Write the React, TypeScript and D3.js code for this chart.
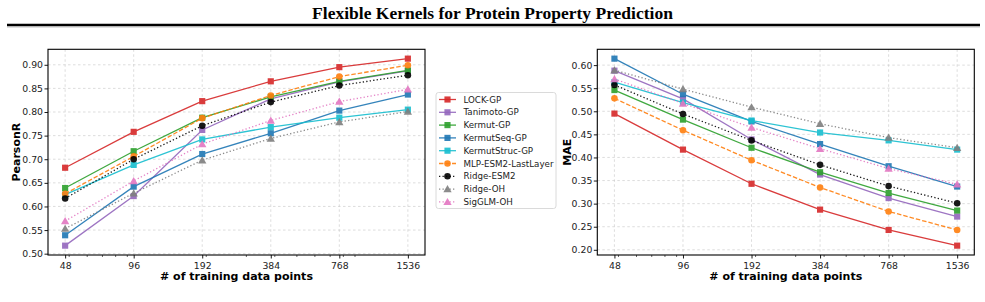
import * as d3 from "d3";
import { useEffect, useRef } from "react";

const W = 985;
const H = 302;

// training set sizes on the (log) x axis
const trainSizes = [48, 96, 192, 384, 768, 1536];
const minorTicks = [50, 60, 70, 80, 90, 200, 300, 400, 500, 600, 700, 800, 900];

const pearsonTicks = [0.5, 0.55, 0.6, 0.65, 0.7, 0.75, 0.8, 0.85, 0.9];
const maeTicks = [0.2, 0.25, 0.3, 0.35, 0.4, 0.45, 0.5, 0.55, 0.6];

const methodNames = [
    "LOCK-GP",
    "Tanimoto-GP",
    "Kermut-GP",
    "KermutSeq-GP",
    "KermutStruc-GP",
    "MLP-ESM2-LastLayer",
    "Ridge-ESM2",
    "Ridge-OH",
    "SigGLM-OH",
];

// PearsonR per method
const pearsonLock = [0.682, 0.758, 0.823, 0.865, 0.895, 0.913];
const pearsonTanimoto = [0.517, 0.622, 0.762, 0.828, 0.864, 0.887];
const pearsonKermut = [0.639, 0.717, 0.788, 0.832, 0.865, 0.888];
const pearsonKermutSeq = [0.539, 0.642, 0.711, 0.755, 0.803, 0.837];
const pearsonKermutStruc = [0.625, 0.688, 0.742, 0.768, 0.788, 0.805];
const pearsonMlp = [0.627, 0.706, 0.787, 0.835, 0.875, 0.899];
const pearsonRidgeEsm = [0.617, 0.700, 0.771, 0.821, 0.856, 0.878];
const pearsonRidgeOh = [0.553, 0.628, 0.698, 0.744, 0.779, 0.801];
const pearsonSigGlm = [0.569, 0.654, 0.732, 0.782, 0.822, 0.848];

// MAE per method
const maeLock = [0.495, 0.417, 0.343, 0.287, 0.243, 0.209];
const maeTanimoto = [0.588, 0.527, 0.439, 0.363, 0.312, 0.272];
const maeKermut = [0.546, 0.482, 0.421, 0.368, 0.323, 0.285];
const maeKermutSeq = [0.614, 0.537, 0.478, 0.429, 0.381, 0.337];
const maeKermutStruc = [0.563, 0.519, 0.480, 0.454, 0.437, 0.417];
const maeMlp = [0.528, 0.459, 0.394, 0.335, 0.283, 0.243];
const maeRidgeEsm = [0.557, 0.494, 0.437, 0.384, 0.338, 0.301];
const maeRidgeOh = [0.589, 0.548, 0.509, 0.473, 0.443, 0.421];
const maeSigGlm = [0.570, 0.517, 0.465, 0.419, 0.376, 0.342];

const pearsonValues = [
    pearsonLock, pearsonTanimoto, pearsonKermut, pearsonKermutSeq, pearsonKermutStruc,
    pearsonMlp, pearsonRidgeEsm, pearsonRidgeOh, pearsonSigGlm,
];
const maeValues = [
    maeLock, maeTanimoto, maeKermut, maeKermutSeq, maeKermutStruc,
    maeMlp, maeRidgeEsm, maeRidgeOh, maeSigGlm,
];

type Marker = "square" | "circle" | "triangle";
interface LineStyle { color: string; dash: string | null; marker: Marker }

const DOT = "1.3,2.2";
const lineStyles: LineStyle[] = [
    { color: "#d62728", dash: null, marker: "square" },
    { color: "#9467bd", dash: null, marker: "square" },
    { color: "#2ca02c", dash: null, marker: "square" },
    { color: "#1f77b4", dash: null, marker: "square" },
    { color: "#17becf", dash: null, marker: "square" },
    { color: "#ff7f0e", dash: "4.5,2", marker: "circle" },
    { color: "#000000", dash: DOT, marker: "circle" },
    { color: "#7f7f7f", dash: DOT, marker: "triangle" },
    { color: "#e377c2", dash: DOT, marker: "triangle" },
];

const FONT = "DejaVu Sans, sans-serif";

function markerPath(m: Marker) {
    if (m === "square") return d3.symbol(d3.symbolSquare, 38)();
    if (m === "circle") return d3.symbol(d3.symbolCircle, 34)();
    return d3.symbol(d3.symbolTriangle, 30)();
}

interface PanelConfig {
    left: number;
    top: number;
    width: number;
    height: number;
    values: number[][];
    yTicks: number[];
    yLabel: string;
    yLabelX: number;
}

function drawPanel(svg: d3.Selection<SVGSVGElement, unknown, null, undefined>, cfg: PanelConfig) {
    const { width, height } = cfg;
    const g = svg.append("g").attr("transform", `translate(${cfg.left},${cfg.top})`);

    // log2 x axis with 5% margins on each side
    const span = Math.log2(1536 / 48) * 0.05;
    const x = d3.scaleLog().base(2)
        .domain([48 * 2 ** -span, 1536 * 2 ** span])
        .range([0, width]);

    const [lo, hi] = d3.extent(cfg.values.flat()) as [number, number];
    const pad = (hi - lo) * 0.05;
    const y = d3.scaleLinear().domain([lo - pad, hi + pad]).range([height, 0]);

    // grid
    const grid = g.append("g")
        .attr("stroke", "#b0b0b0")
        .attr("stroke-width", 0.6)
        .attr("stroke-dasharray", "2.5,2.5")
        .attr("opacity", 0.7);
    grid.selectAll(".gx").data(trainSizes).join("line")
        .attr("x1", d => x(d)).attr("x2", d => x(d))
        .attr("y1", 0).attr("y2", height);
    grid.selectAll(".gy").data(cfg.yTicks).join("line")
        .attr("x1", 0).attr("x2", width)
        .attr("y1", d => y(d)).attr("y2", d => y(d));

    // x axis
    const xAxis = g.append("g")
        .attr("transform", `translate(0,${height})`)
        .call(d3.axisBottom(x).tickValues(trainSizes).tickFormat(d => String(d)).tickSize(3.5).tickPadding(3.5));
    xAxis.select(".domain").remove();
    xAxis.attr("font-family", FONT).attr("font-size", 9.3);
    xAxis.selectAll("text").attr("fill", "#222");
    xAxis.selectAll("line").attr("stroke-width", 0.9);

    // minor ticks
    g.append("g").selectAll("line").data(minorTicks).join("line")
        .attr("x1", d => x(d)).attr("x2", d => x(d))
        .attr("y1", height).attr("y2", height + 2)
        .attr("stroke", "#000").attr("stroke-width", 0.6);

    // y axis
    const yAxis = g.append("g")
        .call(d3.axisLeft(y).tickValues(cfg.yTicks).tickFormat(d3.format(".2f")).tickSize(3.5).tickPadding(1.5));
    yAxis.select(".domain").remove();
    yAxis.attr("font-family", FONT).attr("font-size", 9.3);
    yAxis.selectAll("text").attr("fill", "#222");
    yAxis.selectAll("line").attr("stroke-width", 0.9);

    // series
    const line = d3.line<number>()
        .x((_, i) => x(trainSizes[i]))
        .y(d => y(d));

    cfg.values.forEach((vals, si) => {
        const st = lineStyles[si];
        const sg = g.append("g").attr("opacity", 0.9);
        sg.append("path")
            .attr("d", line(vals))
            .attr("fill", "none")
            .attr("stroke", st.color)
            .attr("stroke-width", 1.3)
            .attr("stroke-dasharray", st.dash);
        sg.selectAll("path.mk").data(vals).join("path")
            .attr("class", "mk")
            .attr("d", markerPath(st.marker))
            .attr("transform", (d, i) => `translate(${x(trainSizes[i])},${y(d) + (st.marker === "triangle" ? 0.8 : 0)})`)
            .attr("fill", st.color);
    });

    // frame
    g.append("rect")
        .attr("width", width).attr("height", height)
        .attr("fill", "none").attr("stroke", "#000").attr("stroke-width", 1.1);

    // axis titles
    g.append("text")
        .attr("x", width / 2).attr("y", height + 25)
        .attr("text-anchor", "middle")
        .attr("font-family", FONT).attr("font-size", 11).attr("font-weight", "bold")
        .text("# of training data points");

    g.append("text")
        .attr("transform", `translate(${cfg.yLabelX - cfg.left},${height / 2}) rotate(-90)`)
        .attr("text-anchor", "middle")
        .attr("font-family", FONT).attr("font-size", 11).attr("font-weight", "bold")
        .text(cfg.yLabel);
}

function drawLegend(svg: d3.Selection<SVGSVGElement, unknown, null, undefined>) {
    const lg = svg.append("g").attr("transform", "translate(436,92.5)");
    lg.append("rect")
        .attr("width", 120).attr("height", 116)
        .attr("rx", 2.5)
        .attr("fill", "#fff").attr("fill-opacity", 0.8)
        .attr("stroke", "#d0d0d0").attr("stroke-width", 0.8);

    const rows = lg.selectAll("g.row").data(methodNames).join("g")
        .attr("class", "row")
        .attr("transform", (_, i) => `translate(0,${7 + i * 12.8})`);

    rows.append("line")
        .attr("x1", 3).attr("x2", 20)
        .attr("stroke", (_, i) => lineStyles[i].color)
        .attr("stroke-width", 1.3)
        .attr("stroke-dasharray", (_, i) => lineStyles[i].dash)
        .attr("opacity", 0.9);
    rows.append("path")
        .attr("d", (_, i) => markerPath(lineStyles[i].marker))
        .attr("transform", (_, i) => `translate(11.5,${lineStyles[i].marker === "triangle" ? 0.8 : 0})`)
        .attr("fill", (_, i) => lineStyles[i].color)
        .attr("opacity", 0.9);
    rows.append("text")
        .attr("x", 27.5).attr("dy", "0.35em")
        .attr("font-family", FONT).attr("font-size", 8.7)
        .attr("fill", "#222")
        .text(d => d);
}

export default function App() {
    const svgRef = useRef<SVGSVGElement | null>(null);

    useEffect(() => {
        if (!svgRef.current) return;
        const svg = d3.select(svgRef.current);
        svg.selectAll("*").remove();

        svg.append("rect").attr("width", W).attr("height", H).attr("fill", "#fff");

        // page header
        svg.append("text")
            .attr("x", W / 2).attr("y", 18.5)
            .attr("text-anchor", "middle")
            .attr("font-family", "Liberation Serif, serif")
            .attr("font-weight", "bold")
            .attr("font-size", 17.5)
            .text("Flexible Kernels for Protein Property Prediction");
        svg.append("line")
            .attr("x1", 7).attr("x2", 980).attr("y1", 25).attr("y2", 25)
            .attr("stroke", "#000").attr("stroke-width", 2.4);
        svg.append("line")
            .attr("x1", 7).attr("x2", 980).attr("y1", 27).attr("y2", 27)
            .attr("stroke", "#999").attr("stroke-width", 0.6);

        drawPanel(svg, {
            left: 48, top: 49.3, width: 377, height: 205.7,
            values: pearsonValues, yTicks: pearsonTicks,
            yLabel: "PearsonR", yLabelX: 20,
        });
        drawPanel(svg, {
            left: 597.3, top: 49.3, width: 377, height: 205.7,
            values: maeValues, yTicks: maeTicks,
            yLabel: "MAE", yLabelX: 570.5,
        });
        drawLegend(svg);
    }, []);

    return (
        <svg
            ref={svgRef}
            width={W}
            height={H}
            style={{ position: "absolute", left: 0, top: 0, display: "block" }}
        />
    );
}
